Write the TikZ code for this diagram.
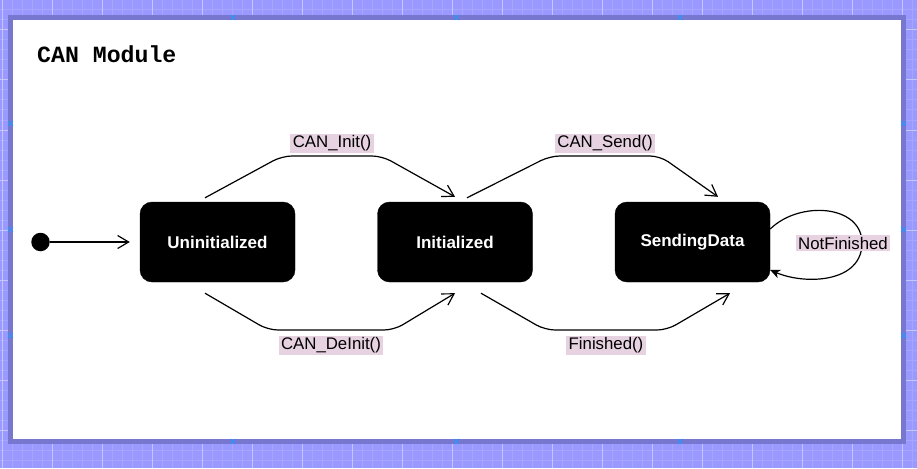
\documentclass[tikz,border=0pt]{standalone}
\usepackage{fontspec}
\setmainfont{Liberation Sans}
\newfontfamily\titlefont{Liberation Mono}
\usetikzlibrary{arrows.meta,calc}
\definecolor{gridbg}{RGB}{153,153,255}
\definecolor{gridminor}{RGB}{166,166,255}
\definecolor{gridmajor}{RGB}{198,198,255}
\definecolor{frame}{RGB}{119,119,208}
\definecolor{lblbg}{RGB}{230,210,224}
\definecolor{handle}{RGB}{40,150,255}
\begin{document}
\begin{tikzpicture}[x=1pt,y=-1pt,
  state/.style={draw=black, fill=black, rounded corners=12pt, minimum width=155pt,
    minimum height=80pt, text=white, font=\fontsize{17}{20}\selectfont\bfseries, inner sep=0pt},
  edge/.style={draw=black, line width=1.2pt, rounded corners=10pt,
    -{Straight Barb[length=11pt,width=13pt,line width=1.2pt]}},
  loopedge/.style={draw=black, line width=1.2pt,
    -{Stealth[length=10pt,width=9pt,inset=3pt]}},
  lbl/.style={fill=lblbg, sharp corners, font=\fontsize{16.8}{19}\selectfont, inner xsep=2.5pt, inner ysep=2pt, text=black},
  handlemark/.style={draw=handle, line width=1pt}
]
\useasboundingbox (0,0) rectangle (917,468);
% background grid
\fill[gridbg] (0,0) rectangle (917,468);
\foreach \x in {2,12,...,912} \draw[gridminor, line width=1pt] (\x,0) -- (\x,468);
\foreach \y in {0,10,...,460} \draw[gridminor, line width=1pt] (0,\y) -- (917,\y);
\foreach \x in {2,52,...,902} \draw[gridmajor, line width=1pt] (\x,0) -- (\x,468);
\foreach \y in {30,80,...,430} \draw[gridmajor, line width=1pt] (0,\y) -- (917,\y);
% frame
\draw[frame, line width=5pt, fill=white] (10.5,17.5) rectangle (903.5,441.5);
% handles
\foreach \px/\py in {233/17.5,456.5/17.5,680/17.5,233/441.5,456.5/441.5,680/441.5,10.5/123.5,10.5/229.5,10.5/335.5,903.5/123.5,903.5/229.5,903.5/335.5}
  \draw[handlemark] (\px-2.5,\py-2.5) -- (\px+2.5,\py+2.5) (\px-2.5,\py+2.5) -- (\px+2.5,\py-2.5);
% title
\node[anchor=base west, inner sep=0pt, font=\titlefont\bfseries\fontsize{23.2}{26}\selectfont] (title) at (37,63) {CAN Module};
% states
\node[circle, fill=black, minimum size=18.5pt, inner sep=0pt] (start) at (40.5,242) {};
\node[state] (un) at (217.5,242) {Uninitialized};
\node[state] (in) at (455,242) {Initialized};
\node[state] (sd) at (692.5,242) {SendingData};
% connectors
\draw[edge] (start) -- ([xshift=-10pt]un.west);
\draw[edge] ([xshift=-12.5pt,yshift=4pt]un.north) -- (282,156)
  -- node[lbl, anchor=south, yshift=2pt] (linit) {CAN\_Init()} (382,156) -- ([yshift=5pt]in.north);
\draw[edge] ([xshift=12pt,yshift=4pt]in.north) -- (550,156)
  -- node[lbl, anchor=south, yshift=2pt] (lsend) {CAN\_Send()} (660,156) -- ([xshift=25.5pt,yshift=5pt]sd.north);
\draw[edge] ([xshift=-12.5pt,yshift=-11pt]un.south) -- (268,330)
  -- node[lbl, anchor=north, yshift=-5pt] (ldeinit) {CAN\_DeInit()} (394,330) -- ([yshift=-11pt]in.south);
\draw[edge] ([xshift=26pt,yshift=-11pt]in.south) -- (545,330)
  -- node[lbl, anchor=north, yshift=-5pt] (lfin) {Finished()} (667,330) -- ([xshift=37.5pt,yshift=-11pt]sd.south);
\draw[loopedge] ([yshift=13pt]sd.east) .. controls (800,200) and (862,205) .. (862,243)
  node[lbl, xshift=-19pt] (lnf) {NotFinished}
  .. controls (862,283) and (805,285) .. ([yshift=-28pt]sd.east);
\end{tikzpicture}
\end{document}
